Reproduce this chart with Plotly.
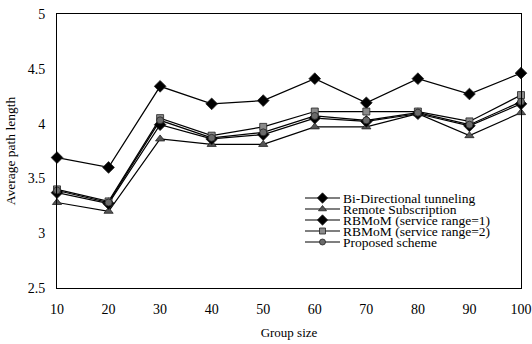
import plotly.graph_objects as go

group_size = [10, 20, 30, 40, 50, 60, 70, 80, 90, 100]
bi_directional = [3.69, 3.60, 4.34, 4.18, 4.21, 4.41, 4.19, 4.41, 4.27, 4.46]
remote_sub = [3.28, 3.20, 3.86, 3.81, 3.81, 3.97, 3.97, 4.09, 3.89, 4.10]
rbmom_1 = [3.37, 3.27, 3.99, 3.86, 3.90, 4.05, 4.02, 4.09, 3.98, 4.18]
rbmom_2 = [3.40, 3.29, 4.05, 3.89, 3.97, 4.11, 4.11, 4.11, 4.02, 4.26]
proposed = [3.39, 3.28, 4.03, 3.87, 3.92, 4.07, 4.03, 4.10, 3.99, 4.20]

series = [
    ("Bi-Directional tunneling", bi_directional, "diamond", "black", 9),
    ("Remote Subscription", remote_sub, "triangle-up", "#555555", 8),
    ("RBMoM (service range=1)", rbmom_1, "diamond", "black", 9),
    ("RBMoM (service range=2)", rbmom_2, "square", "#8a8a8a", 7),
    ("Proposed scheme", proposed, "circle", "#6a6a6a", 7),
]

font = "Liberation Serif, Times New Roman, serif"

fig = go.Figure()
for name, vals, sym, col, size in series:
    fig.add_trace(go.Scatter(
        x=group_size, y=vals, name=name, mode="lines+markers",
        line=dict(color="black", width=1.2),
        marker=dict(symbol=sym, color=col, size=size,
                    line=dict(color="#222222", width=0.8)),
        cliponaxis=False, showlegend=False,
    ))

# compact legend drawn on an overlay axis in pixel units of the plot area
leg_x0, leg_x1, leg_text_x = 305, 340, 341
leg_row0, leg_dy = 198, 11
for i, (name, vals, sym, col, size) in enumerate(series):
    yy = leg_row0 + i * leg_dy
    fig.add_trace(go.Scatter(
        x=[leg_x0, leg_x1], y=[yy, yy], mode="lines",
        line=dict(color="black", width=1.2), xaxis="x2", yaxis="y2",
        showlegend=False, hoverinfo="skip", cliponaxis=False,
    ))
    fig.add_trace(go.Scatter(
        x=[(leg_x0 + leg_x1) / 2], y=[yy], mode="markers",
        marker=dict(symbol=sym, color=col, size=size - 1,
                    line=dict(color="#222222", width=0.8)),
        xaxis="x2", yaxis="y2", showlegend=False, hoverinfo="skip",
        cliponaxis=False,
    ))
    fig.add_annotation(
        x=leg_text_x, y=yy, xref="x2", yref="y2", text=name,
        showarrow=False, xanchor="left", yanchor="middle",
        font=dict(family=font, size=13.5, color="black"),
    )

fig.update_layout(
    width=532, height=344,
    margin=dict(l=57, r=11, t=14, b=56, autoexpand=False),
    paper_bgcolor="white", plot_bgcolor="white",
    font=dict(family=font, size=13, color="black"),
    showlegend=False,
    xaxis2=dict(overlaying="x", range=[57, 521], visible=False, fixedrange=True),
    yaxis2=dict(overlaying="y", range=[288, 14], visible=False, fixedrange=True),
)
fig.layout.xaxis.update(
    range=[10, 100], tickvals=group_size, showgrid=False, zeroline=False,
    showline=True, linecolor="black", linewidth=1, mirror=True,
    ticks="", ticklabelstandoff=8, automargin=False,
    title=dict(text="Group size", font=dict(size=13), standoff=12),
    tickfont=dict(size=14),
)
fig.layout.yaxis.update(
    range=[2.5, 5], tickvals=[2.5, 3, 3.5, 4, 4.5, 5],
    ticktext=["2.5", "3", "3.5", "4", "4.5", "5"],
    showgrid=False, zeroline=False,
    showline=True, linecolor="black", linewidth=1, mirror=True,
    ticks="", ticklabelstandoff=8, automargin=False,
    title=dict(text="Average path length", font=dict(size=13.5), standoff=8),
    tickfont=dict(size=14),
)
fig.write_html("out.html", config={"displayModeBar": False},
               post_script="document.body.style.margin='0';")
